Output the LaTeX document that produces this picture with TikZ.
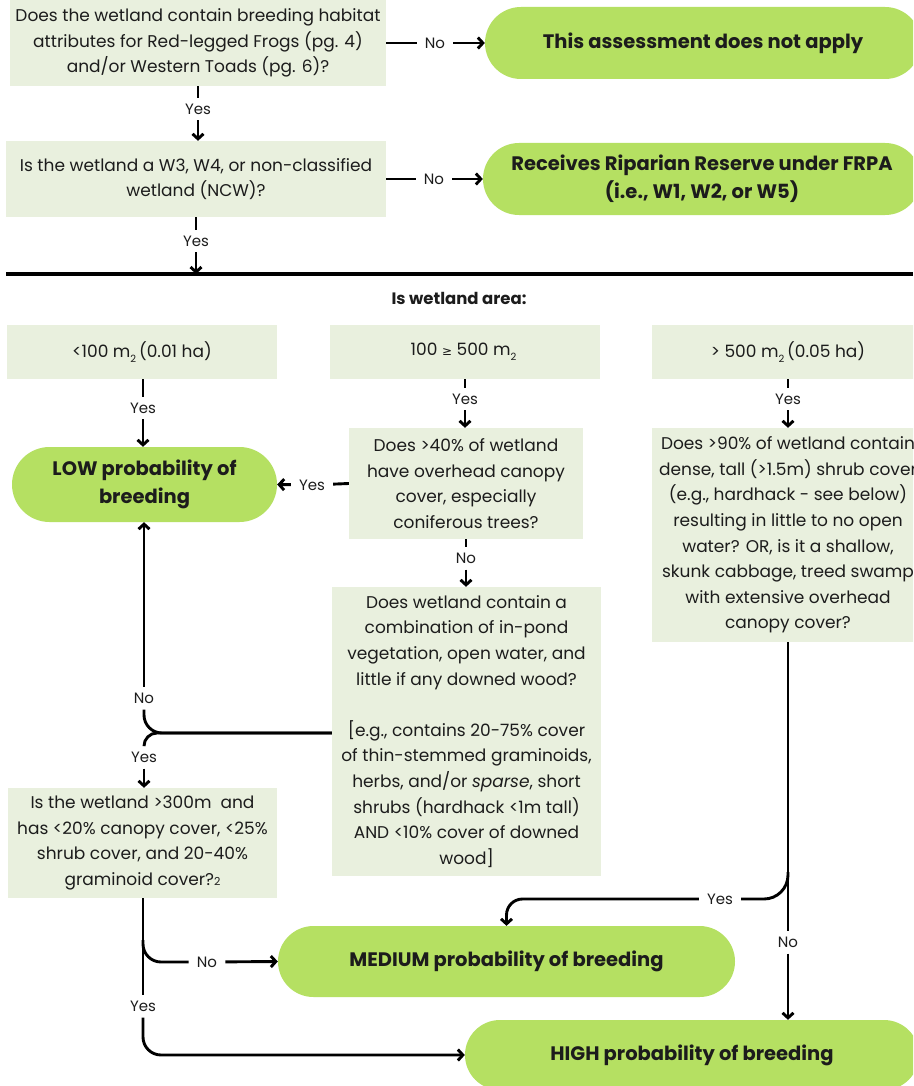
\documentclass[tikz,border=0pt]{standalone}
\usepackage{fontspec}
\setmainfont{Poppins}
\newfontfamily\symfont{DejaVu Sans}
\usetikzlibrary{arrows.meta,shapes.misc}

\definecolor{boxfill}{RGB}{233,240,222}
\definecolor{pillfill}{RGB}{181,224,98}
\definecolor{ink}{RGB}{28,28,28}

\newcommand{\qfont}{\fontsize{17}{25.6}\selectfont}
\newcommand{\pfont}{\fontsize{19.5}{28}\selectfont\bfseries}
\newcommand{\lfont}{\fontsize{15}{17}\selectfont}
\newcommand{\sub}[1]{\raisebox{-0.5ex}{\fontsize{10}{10}\selectfont #1}\,}

\tikzset{
  x=1pt, y=-1pt,
  qbox/.style={fill=boxfill, inner sep=0pt, align=center, text=ink, font=\qfont},
  pill/.style={rounded rectangle, fill=pillfill, inner sep=0pt, align=center, text=ink, font=\pfont},
  lbl/.style={inner xsep=8pt, inner ysep=6pt, text=ink, font=\lfont},
  wire/.style={line width=2.9pt, draw=black},
  arr/.style={wire, -{Straight Barb[length=5pt,width=11pt]}},
}

\begin{document}
\begin{tikzpicture}
\useasboundingbox (0,0) rectangle (913,1086);
\fill[white] (0,0) rectangle (913,1086);
\clip (0,0) rectangle (913,1086);

% ---------- screening questions ----------
\node[qbox, minimum width=376, minimum height=86] (qa) at (198,43)
  {Does the wetland contain breeding habitat\\attributes for Red-legged Frogs (pg. 4)\\and/or Western Toads (pg. 6)?};
\node[pill, minimum width=436, minimum height=72] (t1) at (703,43)
  {This assessment does not apply};
\node[qbox, minimum width=380, minimum height=76] (qb) at (196,179)
  {Is the wetland a W3, W4, or non-classified\\wetland (NCW)?};
\node[pill, minimum width=438, minimum height=72] (t2) at (702,179)
  {Receives Riparian Reserve under FRPA\\(i.e., W1, W2, or W5)};

\node[lbl] (na) at (435,43) {No};
\node[lbl] (nb) at (434,179) {No};
\node[lbl] (ya) at (198,109) {Yes};
\node[lbl] (yb) at (196,241) {Yes};

\draw[wire] (qa.east) -- (na);
\draw[arr] (na) -- (t1);
\draw[wire] (qb.east) -- (nb);
\draw[arr] (nb) -- (t2);
\draw[wire] (qa.south -| ya) -- (ya);
\draw[arr] (ya) -- (ya |- qb.north);

% section divider
\coordinate (ruleL) at (6,274);
\coordinate (ruleR) at (913,274);
\draw[line width=3.5pt] (ruleL) -- (ruleR);
\draw[wire] (qb.south -| yb) -- (yb);
\draw[arr] (yb) -- (yb |- ruleL);

% ---------- wetland area ----------
\node[text=ink, font=\fontsize{16.5}{18}\selectfont\bfseries] (area) at (459,298) {Is wetland area:};

\node[qbox, minimum width=270, minimum height=54] (c1) at (142,352)
  {<100 m\sub{2}(0.01 ha)};
\node[qbox, minimum width=270, minimum height=54] (c2) at (465,352)
  {100 {\symfont\fontsize{12}{12}\selectfont ≥} 500 m\sub{2}};
\node[qbox, minimum width=272, minimum height=54] (c3) at (788,352)
  {> 500 m\sub{2}(0.05 ha)};

\node[pill, minimum width=265, minimum height=75] (low) at (144.5,484.5)
  {LOW probability of\\breeding};

\node[qbox, minimum width=234, minimum height=111] (qd) at (466,483.5)
  {Does >40\% of wetland\\have overhead canopy\\cover, especially\\coniferous trees?};

\node[qbox, minimum width=269, minimum height=289] (qe) at (466.5,731.5)
  {Does wetland contain a\\combination of in-pond\\vegetation, open water, and\\little if any downed wood?\\[25.6pt]
   [e.g., contains 20-75\% cover\\of thin-stemmed graminoids,\\herbs, and/or \textit{sparse}, short\\shrubs (hardhack <1m tall)\\AND <10\% cover of downed\\wood]};

\node[qbox, minimum width=272, minimum height=214] (qf) at (788,535)
  {Does >90\% of wetland contain\\dense, tall (>1.5m) shrub cover\\(e.g., hardhack - see below)\\resulting in little to no open\\water? OR, is it a shallow,\\skunk cabbage, treed swamp\\with extensive overhead\\canopy cover?};

\node[qbox, minimum width=269, minimum height=110] (qg) at (142.5,843)
  {Is the wetland >300m~ and\\has <20\% canopy cover, <25\%\\shrub cover, and 20-40\%\\graminoid cover?{\fontsize{11}{11}\selectfont 2}};

\node[pill, minimum width=457, minimum height=71] (med) at (506.5,961.5)
  {MEDIUM probability of breeding};
\node[pill, minimum width=454, minimum height=70] (high) at (692,1055)
  {HIGH probability of breeding};

% ---------- connector labels ----------
\node[lbl] (yc1) at (143,408) {Yes};
\node[lbl] (yc2) at (465,399) {Yes};
\node[lbl] (yc3) at (788,399) {Yes};
\node[lbl] (yd)  at (312,485) {Yes};
\node[lbl] (nd)  at (466,558) {No};
\node[lbl] (ne)  at (144,698) {No};
\node[lbl] (ye)  at (144,757) {Yes};
\node[lbl] (ng)  at (207,962) {No};
\node[lbl] (yg)  at (143,1006) {Yes};
\node[lbl] (yf)  at (720,899) {Yes};
\node[lbl] (nf)  at (788,942) {No};

% ---------- connectors ----------
\draw[wire] (c1.south -| yc1) -- (yc1);
\draw[arr]  (yc1) -- (yc1 |- low.north);
\draw[wire] (c2.south -| yc2) -- (yc2);
\draw[arr]  (yc2) -- (yc2 |- qd.north);
\draw[wire] (c3.south -| yc3) -- (yc3);
\draw[arr]  (yc3) -- (yc3 |- qf.north);

\draw[wire] (qd.west) -- (yd);
\draw[arr]  (yd) -- (low.east);
\draw[wire] (qd.south -| nd) -- (nd);
\draw[arr]  (nd) -- (nd |- qe.north);

% fork out of the in-pond vegetation question
\coordinate (ew) at (qe.west |- 0,733);
\draw[wire, rounded corners=18pt] (ew) -| (ne.south);
\draw[wire, rounded corners=13pt] (ew) -| (ye.north);
\draw[arr]  (ne.north) -- (ne |- low.south);
\draw[arr]  (ye.south) -- (ye |- qg.north);

% branches below the graminoid question
\coordinate (gsplit) at (143,940);
\draw[wire] (qg.south -| yg) -- (yg.north);
\draw[wire, rounded corners=18pt] (gsplit) |- (ng.west);
\draw[arr]  (ng) -- (med.west);
\draw[arr, rounded corners=18pt] (yg.south) |- (high.west);

% branches below the dense shrub question
\coordinate (fsplit) at (788,872);
\draw[wire] (qf.south) -- (nf.north);
\draw[arr]  (nf.south) -- (nf |- high.north);
\draw[wire, rounded corners=24pt] (fsplit) |- (yf.east);
\draw[arr, rounded corners=16pt] (yf.west) -| (med.north);
\end{tikzpicture}
\end{document}
